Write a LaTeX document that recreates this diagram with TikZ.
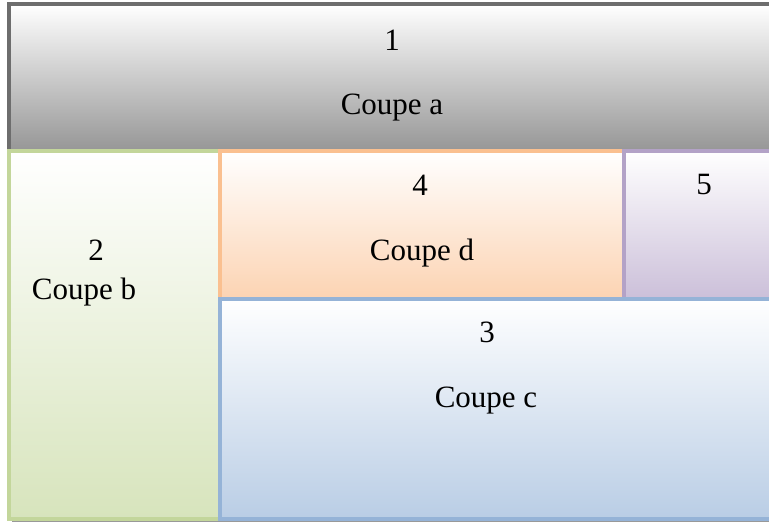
\documentclass[tikz,border=0pt]{standalone}
\usepackage{fontspec}
\setmainfont{Liberation Serif}
\definecolor{grayedge}{HTML}{6D6D6D}
\definecolor{grayfill}{HTML}{969696}
\definecolor{greenedge}{HTML}{C3D69B}
\definecolor{greenfill}{HTML}{D7E4BC}
\definecolor{orangeedge}{HTML}{FAC090}
\definecolor{orangefill}{HTML}{FCD3B2}
\definecolor{purpleedge}{HTML}{B3A2C7}
\definecolor{purplefill}{HTML}{CBBFD9}
\definecolor{blueedge}{HTML}{95B3D7}
\definecolor{bluefill}{HTML}{B9CDE5}
\tikzset{
  panel/.style={line width=1.6pt, top color=white},
  lbl/.style={font=\fontsize{15.5}{18}\selectfont, inner sep=0pt, anchor=center},
}
\begin{document}
\begin{tikzpicture}[x=0.5pt, y=-0.5pt]
  \useasboundingbox[fill=white] (0,0) rectangle (769,522);
  % soft shadow along the bottom edge
  \fill[black!40] (12,518) rectangle (775,522);
  % cut a
  \path[panel, draw=grayedge, bottom color=grayfill] (9,4) rectangle (780,151);
  % cut b
  \path[panel, draw=greenedge, bottom color=greenfill] (9,151) rectangle (220,519);
  % cut d
  \path[panel, draw=orangeedge, bottom color=orangefill] (220,151) rectangle (624,299);
  % offcut 5
  \path[panel, draw=purpleedge, bottom color=purplefill] (624,151) rectangle (780,299);
  % cut c
  \path[panel, draw=blueedge, bottom color=bluefill] (220,299) rectangle (780,519);
  % labels
  \node[lbl] (n1) at (392,40) {1};
  \node[lbl] (ca) at (392,108) {Coupe a};
  \node[lbl] (n2) at (96,250) {2};
  \node[lbl] (cb) at (84,292) {Coupe b};
  \node[lbl] (n4) at (420,185) {4};
  \node[lbl] (cd) at (422,253) {Coupe d};
  \node[lbl] (n5) at (704,185) {5};
  \node[lbl] (n3) at (487,332) {3};
  \node[lbl] (cc) at (486,401) {Coupe c};
\end{tikzpicture}
\end{document}
